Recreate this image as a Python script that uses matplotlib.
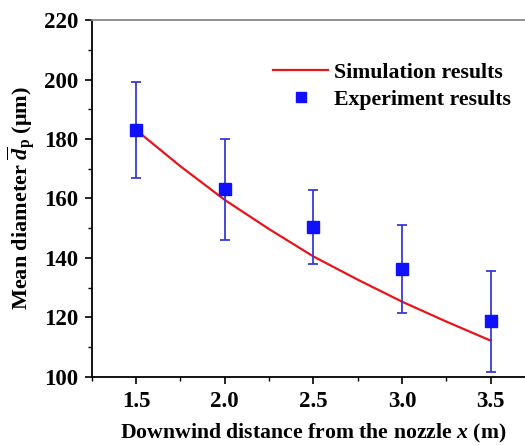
import matplotlib
matplotlib.use("Agg")
import matplotlib.pyplot as plt
from matplotlib.lines import Line2D
from matplotlib.ticker import MultipleLocator

plt.rcParams["font.family"] = ["Liberation Serif", "DejaVu Serif"]
plt.rcParams["font.weight"] = "bold"
plt.rcParams["mathtext.fontset"] = "custom"
plt.rcParams["mathtext.rm"] = "Liberation Serif:bold"
plt.rcParams["mathtext.it"] = "Liberation Serif:bold:italic"
plt.rcParams["mathtext.bf"] = "Liberation Serif:bold"

# simulation curve
sim_x = [1.5, 1.75, 2.0, 2.25, 2.5, 2.75, 3.0, 3.25, 3.5]
sim_y = [183.0, 170.8, 159.5, 149.7, 140.5, 132.7, 125.3, 118.6, 112.2]

# experiment points with asymmetric error bars
exp_x = [1.5, 2.0, 2.5, 3.0, 3.5]
exp_y = [183.0, 163.1, 150.3, 136.2, 118.8]
exp_top = [199.0, 180.0, 163.0, 151.1, 135.6]
exp_bottom = [167.0, 146.0, 138.0, 121.6, 101.8]

err_low = [m - b for m, b in zip(exp_y, exp_bottom)]
err_high = [t - m for m, t in zip(exp_y, exp_top)]

fig = plt.figure(figsize=(5.25, 4.45), dpi=100)
ax = fig.add_axes([0.175, 0.153, 0.844, 0.802])

sim_line, = ax.plot(sim_x, sim_y, color="#e8141b", lw=1.6, zorder=2)
ax.errorbar(exp_x, exp_y, yerr=[err_low, err_high], fmt="s", color="#1010ff",
            ecolor="#3a3ad8", elinewidth=1.3, capsize=3.5, capthick=1.3,
            markersize=8, zorder=3)

ax.set_xlim(1.25, 3.75)
ax.set_ylim(100, 220)
ax.xaxis.set_major_locator(MultipleLocator(0.5))
ax.xaxis.set_minor_locator(MultipleLocator(0.25))
ax.yaxis.set_major_locator(MultipleLocator(20))
ax.yaxis.set_minor_locator(MultipleLocator(10))
ax.tick_params(which="major", direction="out", length=5, width=1.2, labelsize=16.5, pad=5)
ax.tick_params(which="minor", direction="out", length=3, width=1.0)
ax.tick_params(top=False, right=False)
for lab in ax.get_xticklabels() + ax.get_yticklabels():
    lab.set_fontweight("bold")

ax.spines["left"].set_linewidth(1.3)
ax.spines["bottom"].set_linewidth(1.3)
ax.spines["top"].set_color("#888888")
ax.spines["top"].set_linewidth(1.3)
ax.spines["right"].set_visible(False)

ax.set_xlabel("Downwind distance from the nozzle $x$ (m)", fontsize=15.7, fontweight="bold", labelpad=7)
ax.set_ylabel(r"Mean diameter $\overline{d}_{\mathrm{p}}$ ($\mathrm{\mu}$m)", fontsize=16,
              fontweight="bold", labelpad=5)

exp_handle = Line2D([], [], marker="s", ls="none", color="#1010ff", markersize=7)
leg = ax.legend([sim_line, exp_handle], ["Simulation results", "Experiment results"],
                loc="upper left", bbox_to_anchor=(0.39, 0.905), frameon=False, fontsize=15.7,
                handlelength=2.5, handletextpad=0.3, labelspacing=0.3, borderaxespad=0)
for t in leg.get_texts():
    t.set_fontweight("bold")

fig.savefig("out.png", dpi=100)
